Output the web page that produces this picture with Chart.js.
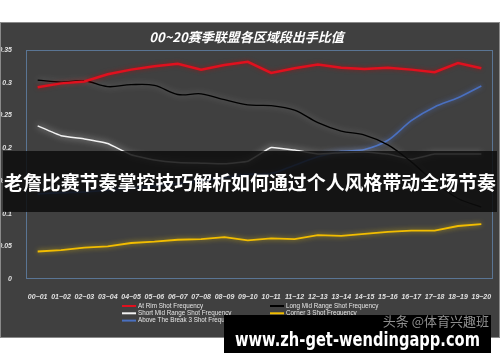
<!DOCTYPE html>
<html>
<head>
<meta charset="utf-8">
<script src="https://cdn.jsdelivr.net/npm/chart.js@4/dist/chart.umd.min.js"></script>
<style>
  html,body{margin:0;padding:0;background:#fff;width:500px;height:362px;overflow:hidden;}
  #panel{position:absolute;left:0;top:22px;width:500px;height:316px;background:#404040;outline:1px solid #8a8a8a;outline-offset:-1px;}
  #banner{position:absolute;left:3px;top:151px;width:494px;height:61px;background:rgba(12,12,12,0.84);}
  #banner span{position:absolute;left:0;top:0;color:#fff;font:bold 19px "Noto Sans CJK SC","Noto Sans",sans-serif;line-height:61px;white-space:nowrap;transform-origin:0 50%;}
  #wm{position:absolute;left:224px;top:315px;width:267px;height:38px;background:#000;}
  #wm .site{position:absolute;left:0;top:11px;color:#fff;font:bold 20px "DejaVu Sans",sans-serif;line-height:26px;white-space:nowrap;transform-origin:0 50%;}
  #wm .src{position:absolute;right:2px;top:-2px;color:#8f8f8f;font:13px "Noto Sans CJK SC",sans-serif;line-height:16px;white-space:nowrap;}
</style>
</head>
<body>
<div id="panel"><canvas id="c" width="500" height="316"></canvas></div>
<div id="banner"><span id="bt">老詹比赛节奏掌控技巧解析如何通过个人风格带动全场节奏</span></div>
<div id="wm"><div class="src">头条 @体育兴趣班</div><div class="site" id="site">www.zh-get-wendingapp.com</div></div>
<script>
const chartTitle = "00~20赛季联盟各区域段出手比值";
const categories = ["00~01","01~02","02~03","03~04","04~05","05~06","06~07","07~08","08~09","09~10","10~11","11~12","12~13","13~14","14~15","15~16","16~17","17~18","18~19","19~20"];
const atRim      = [0.293,0.299,0.302,0.313,0.320,0.325,0.329,0.320,0.327,0.332,0.315,0.322,0.328,0.323,0.321,0.323,0.320,0.316,0.330,0.322];
const longMid    = [0.304,0.301,0.303,0.294,0.297,0.296,0.282,0.283,0.274,0.266,0.265,0.258,0.239,0.226,0.220,0.205,0.179,0.148,0.123,0.110];
const shortMid   = [0.234,0.219,0.214,0.207,0.190,0.182,0.178,0.177,0.176,0.180,0.201,0.197,0.191,0.193,0.194,0.191,0.183,0.191,0.191,0.191];
const corner3    = [0.042,0.044,0.048,0.050,0.055,0.057,0.060,0.061,0.064,0.059,0.062,0.061,0.067,0.066,0.069,0.072,0.074,0.074,0.081,0.084];
const aboveBreak = [0.130,0.132,0.133,0.136,0.139,0.142,0.146,0.150,0.155,0.160,0.161,0.174,0.187,0.195,0.198,0.212,0.242,0.263,0.277,0.295];
const seriesNames = ["At Rim Shot Frequency","Long Mid Range Shot Frequency","Short Mid Range Shot Frequency","Corner 3 Shot Frequency","Above The Break 3 Shot Frequency"];
const yTickValues = [0,0.05,0.1,0.15,0.2,0.25,0.3,0.35];
const yTickLabels = ["0","0.05","0.1","0.15","0.2","0.25","0.3","0.35"];

function fitText(el, targetLeft, targetWidth){
  const w = el.getBoundingClientRect().width;
  const s = targetWidth / w;
  el.style.left = targetLeft + 'px';
  el.style.transform = 'scaleX(' + s + ')';
}
fitText(document.getElementById('bt'), 1, 492);
fitText(document.getElementById('site'), 11, 245);

const tickFont = {family:"Liberation Sans", size:7, weight:"bold", style:"italic"};

const glowPlugin = {
  id:'glow',
  beforeDatasetDraw(chart,args){
    const ds = chart.data.datasets[args.index];
    const ctx = chart.ctx; ctx.save();
    ctx.shadowColor = ds.glowColor || 'transparent';
    ctx.shadowBlur = ds.glowBlur || 0;
  },
  afterDatasetDraw(chart){ chart.ctx.restore(); }
};
const framePlugin = {
  id:'frame',
  beforeDatasetsDraw(chart){
    const {ctx, chartArea:a} = chart;
    ctx.save();
    ctx.strokeStyle = '#5a7594';
    ctx.lineWidth = 1;
    ctx.strokeRect(Math.round(a.left)+0.5, Math.round(a.top)+0.5, Math.round(a.right-a.left)-1, Math.round(a.bottom-a.top)-1);
    ctx.restore();
  }
};
const legendPlugin = {
  id:'gridLegend',
  afterDraw(chart){
    const ctx = chart.ctx;
    const cols = [122, 270];
    const rows = [284, 291.3, 298.6];
    ctx.save();
    ctx.font = '6.3px "Liberation Sans"';
    ctx.textBaseline = 'middle';
    chart.data.datasets.forEach((ds,i)=>{
      const x = cols[i%2], y = rows[Math.floor(i/2)];
      ctx.strokeStyle = ds.borderColor; ctx.lineWidth = 2;
      ctx.beginPath(); ctx.moveTo(x,y); ctx.lineTo(x+14,y); ctx.stroke();
      ctx.fillStyle = '#e6e6e6';
      ctx.fillText(ds.label, x+16, y);
    });
    ctx.restore();
  }
};

new Chart(document.getElementById('c'), {
  type:'line',
  data:{
    labels: categories,
    datasets:[
      {label:seriesNames[0], data:atRim, borderColor:'#e0101e', borderWidth:2.5, tension:0, glowColor:'rgba(200,0,0,0.6)', glowBlur:4},
      {label:seriesNames[1], data:longMid, borderColor:'#000000', borderWidth:1.3, tension:0.35, glowColor:'rgba(200,200,200,0.45)', glowBlur:6},
      {label:seriesNames[2], data:shortMid, borderColor:'#f2f2f2', borderWidth:1.5, tension:0.1, glowColor:'rgba(255,255,255,0.7)', glowBlur:6},
      {label:seriesNames[3], data:corner3, borderColor:'#f2bd00', borderWidth:1.8, tension:0, glowColor:'rgba(240,200,0,0.7)', glowBlur:5},
      {label:seriesNames[4], data:aboveBreak, borderColor:'#4a70c0', borderWidth:1.6, tension:0.3, glowColor:'rgba(80,120,220,0.7)', glowBlur:5}
    ]
  },
  options:{
    responsive:false,
    animation:false,
    elements:{point:{radius:0}},
    layout:{padding:{left:0,right:7,top:0,bottom:0}},
    plugins:{
      legend:{display:false},
      tooltip:{enabled:false},
      title:{display:true, text:chartTitle, color:'#ffffff',
        font:{family:'"Noto Sans CJK SC"', size:13, weight:'bold', style:'italic'}, padding:{top:7,bottom:5.4}}
    },
    scales:{
      x:{type:'category', offset:true,
        grid:{display:false}, border:{display:false},
        ticks:{color:'#e0e0e0', font:tickFont, padding:6, maxRotation:0, autoSkip:false},
        afterFit(s){ s.height = 59; }
      },
      y:{min:0, max:0.35,
        grid:{display:false}, border:{display:false},
        afterBuildTicks(s){ s.ticks = yTickValues.map(v=>({value:v})); },
        ticks:{color:'#e0e0e0', font:tickFont, padding:6, callback:(v,i)=>yTickLabels[i]},
        afterFit(s){ s.width = 26; }
      }
    }
  },
  plugins:[glowPlugin, framePlugin, legendPlugin]
});
</script>
</body>
</html>
